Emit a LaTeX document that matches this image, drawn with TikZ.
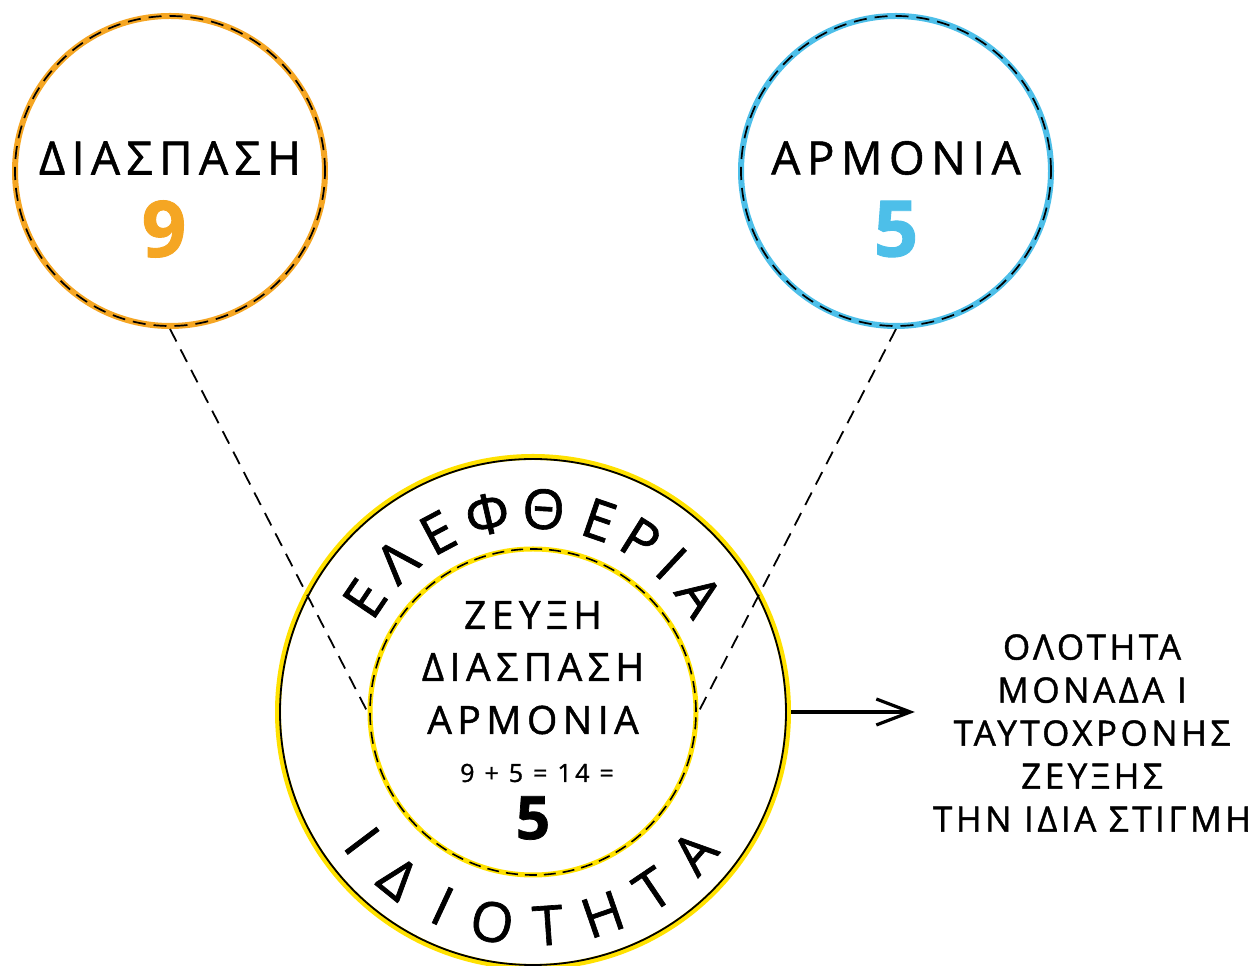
\documentclass[tikz,border=0pt]{standalone}
\usepackage{fontspec}
\setmainfont[LetterSpace=14, FakeBold=1.2]{Open Sans}
\usepackage{tikz}
\usetikzlibrary{arrows.meta,%
                shapes,positioning}
\definecolor{dorange}{HTML}{F5A623}
\definecolor{dblue}{HTML}{4DBFE9}
\definecolor{dyellow}{HTML}{FFE100}
\tikzset{
  bubble/.style={circle, inner sep=0pt, minimum size=310pt, line width=6pt},
  rim/.style={line width=1.7pt, dash pattern=on 13pt off 8pt},
  word/.style={inner sep=0pt, font=\fontsize{46}{46}\selectfont},
  bignum/.style={inner sep=0pt, font=\fontsize{78}{78}\selectfont\bfseries},
  midword/.style={inner sep=0pt, font=\fontsize{39}{39}\selectfont},
  ring/.style={inner sep=0pt, font=\fontsize{55}{55}\selectfont},
  link/.style={line width=1.8pt, dash pattern=on 14pt off 9pt}
}

\begin{document}
\begin{tikzpicture}[x=1pt,y=1pt]
\useasboundingbox (0,0) rectangle (1259,966);
% the two top circles
\node[bubble, draw=dorange] (D) at (170,795) {};
\node[bubble, draw=dblue] (A) at (896,795) {};
\draw[rim] (D.center) circle[radius=155pt];
\draw[rim] (A.center) circle[radius=155pt];
\node[word] at ([yshift=13pt]D.center) {ΔΙΑΣΠΑΣΗ};
\node[bignum, text=dorange] at ([shift={(-6pt,-58pt)}]D.center) {9};
\node[word] at ([yshift=13pt]A.center) {ΑΡΜΟΝΙΑ};
\node[bignum, text=dblue] at ([yshift=-58pt]A.center) {5};
% big circle
\node[circle, inner sep=0pt, minimum size=510pt, draw=dyellow, line width=6pt] (O) at (533,254) {};
\draw[line width=1.8pt] (O.center) circle[radius=253pt];
\node[circle, inner sep=0pt, minimum size=326pt, draw=dyellow, line width=5pt] (I) at (533,254) {};
\draw[line width=1.6pt, dash pattern=on 12pt off 7pt] (I.center) circle[radius=163pt];
\foreach \ch/\a in {Ε/146,Λ/132,Ε/118,Φ/103,Θ/87,Ε/71,Ρ/58,Ι/47,Α/35}
  \node[ring, rotate=\a-90] at ([shift={(\a:203pt)}]O.center) {\ch};
\foreach \ch/\a in {Ι/217,Δ/231,Ι/245,Ο/259,Τ/274,Η/289,Τ/304,Α/319}
  \node[ring, rotate=\a+90] at ([shift={(\a:214pt)}]O.center) {\ch};
\node[midword] at ([yshift=97pt]I.center) {ΖΕΥΞΗ};
\node[midword] at ([yshift=45pt]I.center) {ΔΙΑΣΠΑΣΗ};
\node[midword] at ([yshift=-8pt]I.center) {ΑΡΜΟΝΙΑ};
\node[inner sep=0pt, font=\fontsize{25}{25}\selectfont] at ([shift={(4pt,-61pt)}]I.center) {9 + 5 = 14 =};
\node[inner sep=0pt, font=\fontsize{60}{60}\selectfont\bfseries] at ([yshift=-106pt]I.center) {5};
% text on the right
\node[inner sep=0pt, align=center, font=\fontsize{35}{43}\selectfont\addfontfeature{LetterSpace=10}] (T) at (1092,233)
  {ΟΛΟΤΗΤΑ\\ΜΟΝΑΔΑ Ι\\ΤΑΥΤΟΧΡΟΝΗΣ\\ΖΕΥΞΗΣ\\ΤΗΝ ΙΔΙΑ ΣΤΙΓΜΗ};
% connectors
\draw[link] (D.south) -- (I.west);
\draw[link] (A.south) -- (I.east);
\draw[line width=3.2pt, -{Straight Barb[length=34pt,width=26pt,line width=3.2pt]}, shorten >=18pt]
  (O.east) -- (O.east -| T.west);
\end{tikzpicture}
\end{document}
